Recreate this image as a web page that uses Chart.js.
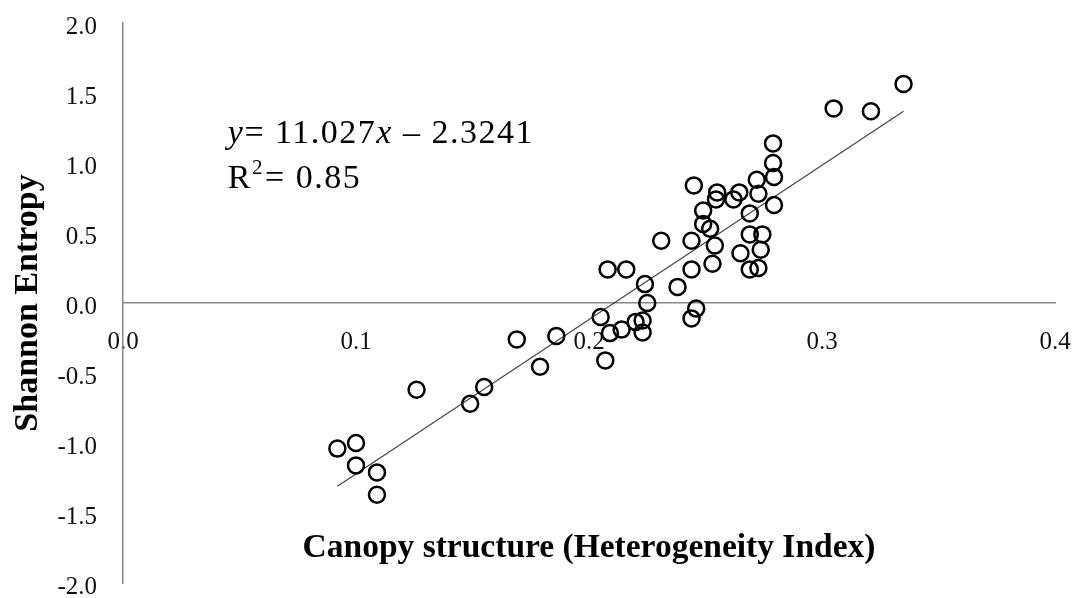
<!DOCTYPE html>
<html>
<head>
<meta charset="utf-8">
<script src="https://cdn.jsdelivr.net/npm/chart.js@4"></script>
<style>
  html, body { margin: 0; padding: 0; background: #fff; }
  #wrap { width: 1075px; height: 598px; }
</style>
</head>
<body>
<div id="wrap"><canvas id="entropyChart"></canvas></div>
<script>
// Canopy heterogeneity index vs Shannon entropy
const heterogeneity = [
    0.092, 0.100, 0.100, 0.109, 0.109, 0.126, 0.149, 0.155, 0.169, 0.179,
    0.186, 0.205, 0.207, 0.209, 0.214, 0.220, 0.223, 0.223, 0.225, 0.224,
    0.208, 0.216, 0.231, 0.238, 0.246, 0.244, 0.244, 0.244, 0.245, 0.249,
    0.249, 0.252, 0.253, 0.254, 0.2545, 0.255, 0.262, 0.2645, 0.265, 0.269,
    0.269, 0.269, 0.2727, 0.2737, 0.2744, 0.2727, 0.272, 0.279, 0.279, 0.2794,
    0.2794, 0.305, 0.321, 0.335
];
const entropy = [
    -1.04, -1.00, -1.16, -1.21, -1.37, -0.62, -0.72, -0.60, -0.26, -0.455,
    -0.235, -0.10, -0.41, -0.215, -0.19, -0.135, -0.125, -0.21, 0.00, 0.135,
    0.24, 0.24, 0.445, 0.115, -0.04, -0.11, 0.24, 0.445, 0.84, 0.66,
    0.565, 0.53, 0.28, 0.41, 0.74, 0.79, 0.74, 0.79, 0.355, 0.64,
    0.49, 0.24, 0.25, 0.38, 0.49, 0.78, 0.88, 1.14, 1.00, 0.90,
    0.70, 1.39, 1.37, 1.565
];
const xTicks = [0.0, 0.1, 0.2, 0.3, 0.4];
const yTicks = [-2.0, -1.5, -1.0, -0.5, 0.0, 0.5, 1.0, 1.5, 2.0];

// linear fit shown on the figure
const slope = 11.027;
const intercept = -2.3241;
const rSquared = 0.85;

const serif = '"Liberation Serif", "Times New Roman", serif';

// stop tick labels from pushing the plot area inwards
function noPadding(scale) {
    scale.paddingTop = 0;
    scale.paddingBottom = 0;
    scale.paddingLeft = 0;
    scale.paddingRight = 0;
}

document.addEventListener('DOMContentLoaded', function() {
    const points = heterogeneity.map((x, i) => ({ x: x, y: entropy[i] }));
    const xMin = Math.min(...heterogeneity);
    const xMax = Math.max(...heterogeneity);
    const trend = [
        { x: xMin, y: slope * xMin + intercept },
        { x: xMax, y: slope * xMax + intercept }
    ];

    // equation + R² text, anchored in data coordinates
    const equationLabel = {
        id: 'equationLabel',
        afterDatasetsDraw(chart) {
            const ctx = chart.ctx;
            const xs = chart.scales.x, ys = chart.scales.y;
            let px = xs.getPixelForValue(0.045);
            const line1 = ys.getPixelForValue(1.14);
            const line2 = ys.getPixelForValue(0.82);
            ctx.save();
            ctx.fillStyle = '#000';
            ctx.textBaseline = 'alphabetic';
            ctx.textAlign = 'left';
            ctx.letterSpacing = '1.5px';
            const parts = [
                ['italic', 'y'],
                ['normal', '= ' + slope.toFixed(3)],
                ['italic', 'x'],
                ['normal', ' \u2013 ' + Math.abs(intercept).toFixed(4)]
            ];
            parts.forEach(p => {
                ctx.font = p[0] + ' 34px ' + serif;
                ctx.fillText(p[1], px, line1);
                px += ctx.measureText(p[1]).width;
            });
            px = xs.getPixelForValue(0.045);
            ctx.font = '34px ' + serif;
            ctx.fillText('R', px, line2);
            px += ctx.measureText('R').width;
            ctx.font = '21px ' + serif;
            ctx.fillText('2', px, line2 - 14);
            px += ctx.measureText('2').width + 1;
            ctx.font = '34px ' + serif;
            ctx.fillText('= ' + rSquared.toFixed(2), px, line2);
            ctx.restore();
        }
    };

    const ctx = document.getElementById('entropyChart').getContext('2d');
    const entropyChart = new Chart(ctx, {
        type: 'scatter',
        data: {
            datasets: [{
                data: points,
                pointStyle: 'circle',
                pointRadius: 8,
                pointHoverRadius: 8,
                borderColor: '#000',
                borderWidth: 2.5,
                backgroundColor: 'rgba(0,0,0,0)'
            }, {
                type: 'line',
                data: trend,
                borderColor: '#444',
                borderWidth: 1.2,
                pointRadius: 0,
                fill: false
            }]
        },
        options: {
            animation: false,
            responsive: true,
            maintainAspectRatio: false,
            layout: { padding: { left: 0, top: 23, right: 20, bottom: 15 } },
            plugins: {
                legend: { display: false },
                tooltip: { enabled: false }
            },
            scales: {
                x: {
                    type: 'linear',
                    position: { y: 0 },
                    min: 0,
                    max: 0.4,
                    afterBuildTicks: scale => { scale.ticks = xTicks.map(v => ({ value: v })); },
                    afterFit: scale => { scale.height = 265; noPadding(scale); },
                    grid: { display: false, drawTicks: false },
                    border: { display: true, color: '#8a8a8a', width: 1.5 },
                    ticks: {
                        padding: 24,
                        color: '#111',
                        font: { family: serif, size: 25 },
                        callback: v => v.toFixed(1)
                    },
                    title: {
                        display: true,
                        text: 'Canopy structure (Heterogeneity Index)',
                        color: '#000',
                        padding: 0,
                        font: { family: serif, size: 33.5, weight: 'bold' }
                    }
                },
                y: {
                    type: 'linear',
                    position: 'left',
                    min: -2,
                    max: 2,
                    afterBuildTicks: scale => { scale.ticks = yTicks.map(v => ({ value: v })); },
                    afterFit: scale => { scale.width = 123; noPadding(scale); },
                    grid: { display: false, drawTicks: false },
                    border: { display: true, color: '#8a8a8a', width: 1.5 },
                    ticks: {
                        padding: 26,
                        labelOffset: 4,
                        color: '#111',
                        font: { family: serif, size: 25 },
                        callback: v => v.toFixed(1)
                    },
                    title: {
                        display: true,
                        text: 'Shannon Entropy',
                        color: '#000',
                        padding: { top: 8, bottom: 0 },
                        font: { family: serif, size: 34, weight: 'bold' }
                    }
                }
            }
        },
        plugins: [equationLabel]
    });
});
</script>
</body>
</html>
